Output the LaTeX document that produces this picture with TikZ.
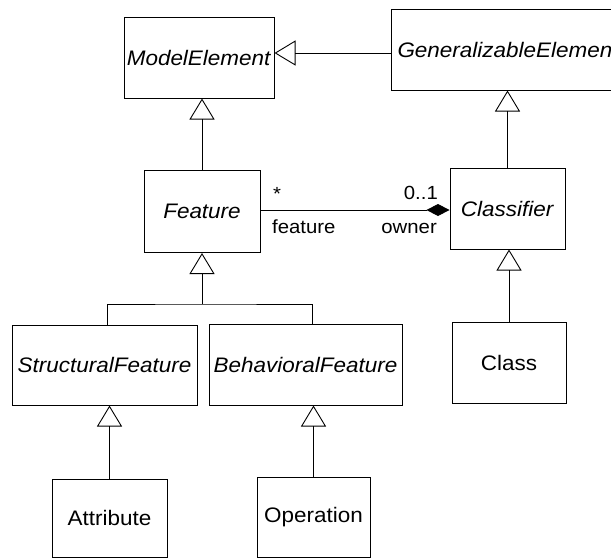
\documentclass[tikz,border=0pt]{standalone}
\usepackage{fontspec}
\setmainfont[FakeStretch=1.07]{Liberation Sans}
\usetikzlibrary{arrows.meta}
\begin{document}
\begin{tikzpicture}[x=1pt,y=-1pt,
  box/.style={draw, line width=1pt, inner sep=0pt, font=\fontsize{21}{25}\selectfont},
  lbl/.style={inner sep=0pt, font=\fontsize{19}{22}\selectfont},
  gen/.style={line width=0.8pt, -{Triangle[open, length=21pt, width=25pt, line width=0.9pt]}},
  comp/.style={line width=0.9pt, -{Diamond[length=23pt, width=12pt]}},
  plain/.style={line width=0.8pt}]
\useasboundingbox (0,0) rectangle (611,560);
\node[box, minimum width=150pt, minimum height=81pt] (me) at (199,57.5) {\textit{ModelElement}};
\node[box, minimum width=249pt, minimum height=81pt, anchor=west, text width=237pt, align=left] (ge) at (391,49.5) {\textit{GeneralizableElemen}};
\node[box, minimum width=116pt, minimum height=82pt] (feat) at (202,211.5) {\textit{Feature}};
\node[box, minimum width=115pt, minimum height=81pt] (cls) at (507.5,208.5) {\textit{Classifier}};
\node[box, minimum width=185pt, minimum height=80pt] (sf) at (104.5,365) {\textit{StructuralFeature}};
\node[box, minimum width=193pt, minimum height=81pt] (bf) at (305.5,364.5) {\textit{BehavioralFeature}};
\node[box, minimum width=114pt, minimum height=81pt] (class) at (509,362.5) {Class};
\node[box, minimum width=115pt, minimum height=78pt] (attr) at (109.5,518) {Attribute};
\node[box, minimum width=113pt, minimum height=80pt] (op) at (313.5,517) {Operation};

\draw[gen] (ge.west |- 0,53) -- (me.east |- 0,53);
\draw[gen] (feat.north) -- (feat.north |- me.south);
\draw[gen] (cls.north) -- (cls.north |- ge.south);
\draw[gen] (class.north) -- (class.north |- cls.south);
\coordinate (fork) at (202,304);
\draw[gen] (fork) -- (feat.south);
\draw[plain] ([xshift=2.5pt]sf.north) |- (fork) -| ([xshift=6.5pt]bf.north);
\draw[gen] (attr.north) -- (attr.north |- sf.south);
\draw[gen] (op.north) -- (op.north |- bf.south);
\draw[comp] (feat.east |- 0,210) -- (cls.west |- 0,210);

\node[lbl, anchor=base] (m1) at (277,200) {*};
\node[lbl, anchor=base east] (m2) at (438,199) {0..1};
\node[lbl, anchor=base west] (r1) at (272,233) {feature};
\node[lbl, anchor=base east] (r2) at (437,233) {owner};
\end{tikzpicture}
\end{document}
